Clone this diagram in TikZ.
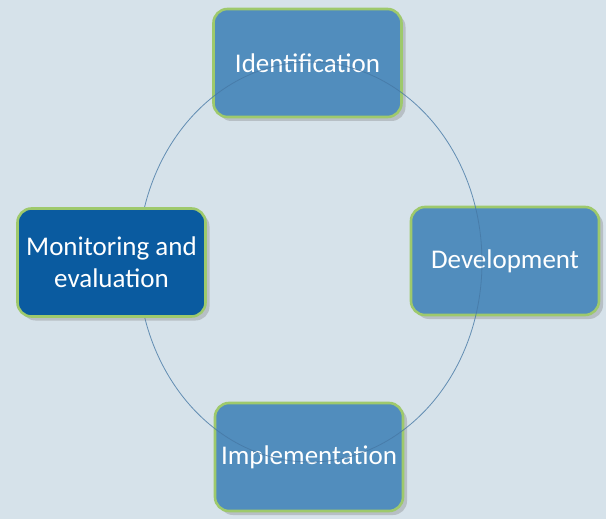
\documentclass[tikz,border=0pt]{standalone}
\usepackage{fontspec}
\setmainfont{Carlito}
\usetikzlibrary{shadows}
\definecolor{bgblue}{RGB}{214,226,234}
\definecolor{stageblue}{RGB}{81,141,189}
\definecolor{darkstage}{RGB}{10,91,160}
\definecolor{leafgreen}{RGB}{158,201,108}
\definecolor{ringblue}{RGB}{70,120,165}

\begin{document}
\begin{tikzpicture}[x=1pt, y=-1pt,
        stage/.style={draw=leafgreen, line width=2.6pt, fill=stageblue, rounded corners=14pt,
            minimum width=188pt, minimum height=108pt, text=white, align=center,
            font=\fontsize{27}{32}\selectfont,
            drop shadow={shadow xshift=4pt, shadow yshift=-4pt, opacity=0.35}}]
        \fill[bgblue] (0, 0) rectangle (606, 519);

        \node[stage] (ident) at (307.5, 63) {Identification};
        \node[stage] (devel) at (505, 261) {Development};
        \node[stage] (implem) at (309, 457) {Implementation};

        \draw[ringblue, opacity=0.8, line width=0.8pt] (310, 262) ellipse [x radius=172, y radius=200];

        \node[stage, fill=darkstage] (monit) at (111.5, 262.5) {Monitoring and\\evaluation};
    \end{tikzpicture}
\end{document}
